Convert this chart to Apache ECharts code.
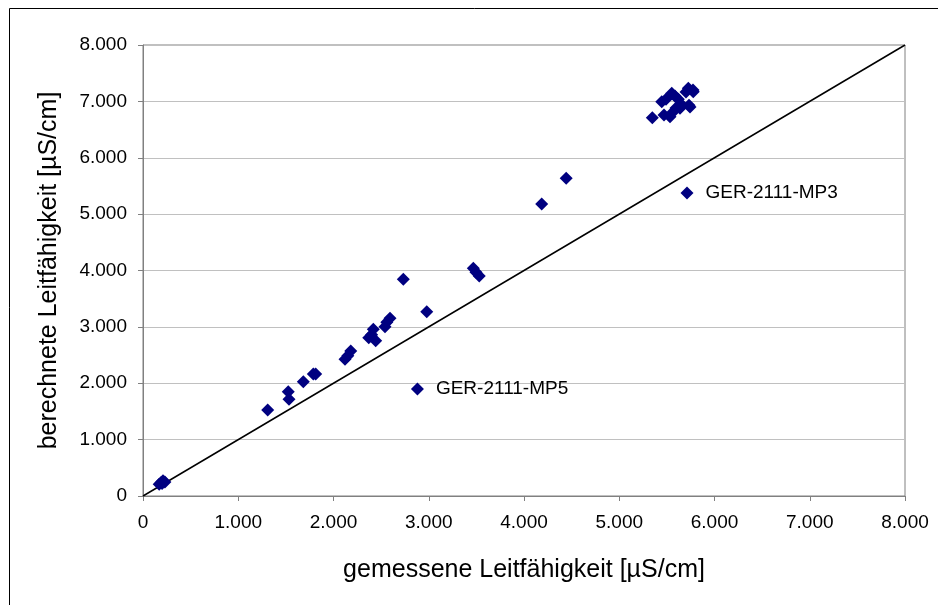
<!DOCTYPE html>
<html>
<head>
<meta charset="utf-8">
<script src="https://cdn.jsdelivr.net/npm/echarts@6/dist/echarts.min.js"></script>
<style>html,body{margin:0;padding:0;background:#fff;}#c{width:938px;height:605px;}</style>
</head>
<body>
<div id="c"></div>
<script>
// measured conductivity (x) and calculated conductivity (y), µS/cm
const measured = [170, 190, 210, 230, 200,
  1309, 1525, 1533, 1683, 1788, 1813, 2121, 2150, 2181, 2370, 2400, 2418, 2443, 2541, 2560, 2593, 2733, 2979,
  3468, 3496, 3530, 4186, 4443,
  5347, 5446, 5470, 5491, 5533, 5551, 5554, 5585, 5596, 5620, 5638, 5648, 5701, 5725, 5732, 5743, 5774, 5777];
const calculated = [210, 240, 270, 250, 220,
  1526, 1850, 1715, 2027, 2164, 2164, 2425, 2490, 2572, 2808, 2860, 2957, 2755, 3003, 3080, 3152, 3844, 3269,
  4039, 3970, 3903, 5180, 5636,
  6711, 6994, 6758, 7036, 6728, 7143, 6795, 7095, 6882, 7036, 6877, 6953, 7166, 7232, 6930, 6900, 7202, 7172];
const labeledNames = ['GER-2111-MP3', 'GER-2111-MP5'];
const labeledMeasured = [5711, 2881];
const labeledCalculated = [5375, 1898];
const lineX = [0, 8000];
const lineY = [0, 8000];
const xTicks = [0, 1000, 2000, 3000, 4000, 5000, 6000, 7000, 8000];

const fmt = v => v === 0 ? '0' : (Math.floor(v / 1000) + '.' + String(v % 1000).padStart(3, '0'));
const font = 'Liberation Sans, Arial, sans-serif';
const chart = echarts.init(document.getElementById('c'));
chart.setOption({
  animation: false,
  backgroundColor: '#fff',
  graphic: [{
    type: 'rect', shape: { x: 9.5, y: 8.5, width: 1000, height: 1000 },
    style: { fill: 'none', stroke: '#000', lineWidth: 1 }, silent: true, z: 100
  }],
  grid: { left: 143, right: 33, top: 45, bottom: 109, show: true, borderColor: '#808080', borderWidth: 1, backgroundColor: 'transparent' },
  xAxis: {
    type: 'value', min: xTicks[0], max: xTicks[xTicks.length - 1], interval: 1000,
    name: 'gemessene Leitfähigkeit [µS/cm]', nameLocation: 'middle', nameGap: 62,
    nameTextStyle: { fontFamily: font, fontSize: 25, color: '#000' },
    axisLine: { show: true, lineStyle: { color: '#808080', width: 1 } },
    axisTick: { show: true, length: 5, inside: false, lineStyle: { color: '#808080' } },
    axisLabel: { formatter: fmt, fontFamily: font, fontSize: 19, color: '#000', margin: 17 },
    splitLine: { show: false }
  },
  yAxis: {
    type: 'value', min: 0, max: 8000, interval: 1000,
    name: 'berechnete Leitfähigkeit [µS/cm]', nameLocation: 'middle', nameGap: 81,
    nameTextStyle: { fontFamily: font, fontSize: 25, color: '#000' },
    axisLine: { show: true, lineStyle: { color: '#808080', width: 1 } },
    axisTick: { show: true, length: 5, inside: false, lineStyle: { color: '#808080' } },
    axisLabel: { formatter: fmt, fontFamily: font, fontSize: 19, color: '#000', margin: 16 },
    splitLine: { show: true, lineStyle: { color: '#c0c0c0', width: 1 } }
  },
  series: [
    {
      type: 'line', data: lineX.map((x, i) => [x, lineY[i]]), showSymbol: false, symbol: 'none',
      lineStyle: { color: '#000', width: 1.5 }, silent: true, z: 2
    },
    {
      type: 'scatter', data: measured.map((x, i) => [x, calculated[i]]),
      symbol: 'diamond', symbolSize: 13, itemStyle: { color: '#000080', opacity: 1 }, z: 3
    },
    {
      type: 'scatter', data: labeledMeasured.map((x, i) => ({ value: [x, labeledCalculated[i]], name: labeledNames[i] })),
      symbol: 'diamond', symbolSize: 13, itemStyle: { color: '#000080', opacity: 1 }, z: 3,
      label: { show: true, position: 'right', distance: 12, formatter: p => p.name, fontFamily: font, fontSize: 19, color: '#000' }
    }
  ]
});
</script>
</body>
</html>
